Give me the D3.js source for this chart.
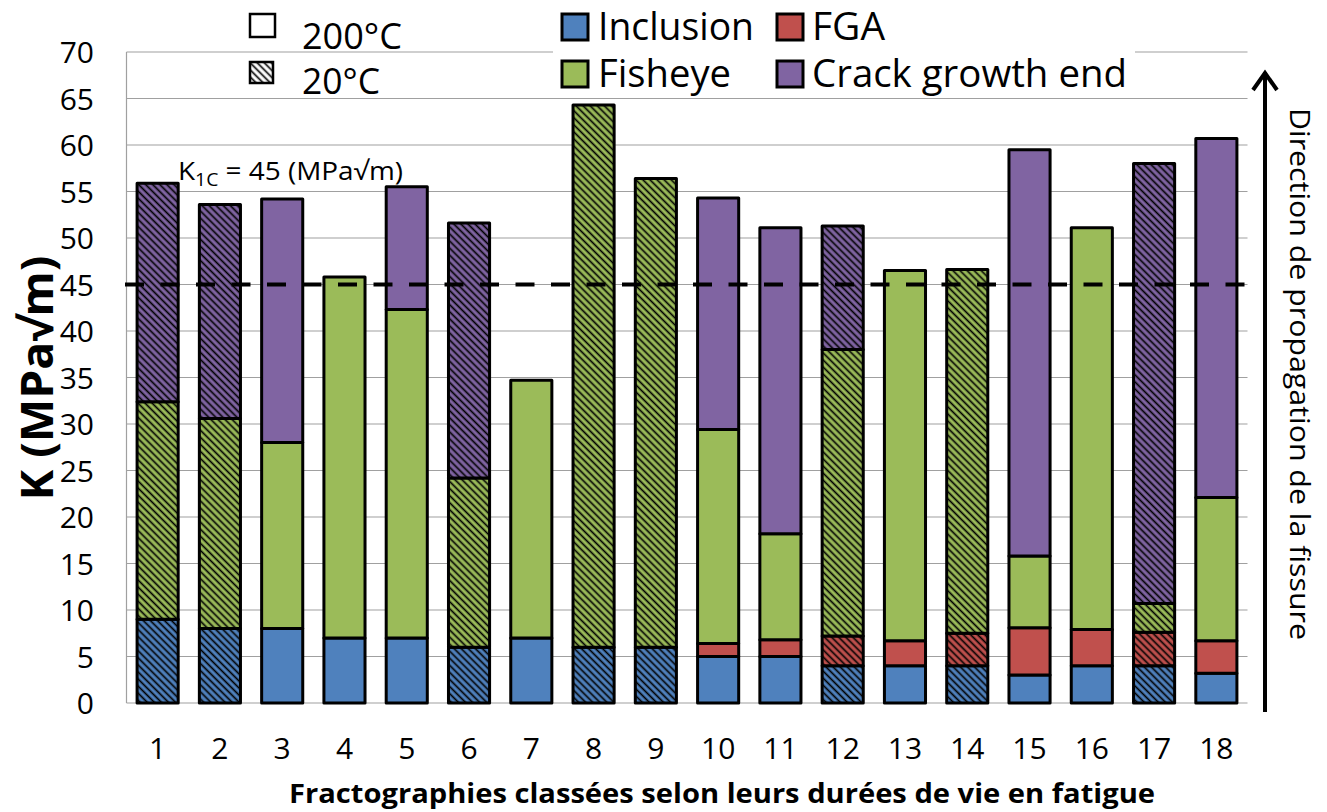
<!DOCTYPE html>
<html><head><meta charset="utf-8">
<script src="https://cdn.jsdelivr.net/npm/d3@7"></script>
<style>
html,body{margin:0;padding:0;background:#fff;}
svg text{font-family:"Open Sans","Noto Sans",sans-serif;fill:#000;}
</style></head>
<body><svg id="c" width="1327" height="812"></svg>
<script>
// ---------- data ----------
const samples = ["1","2","3","4","5","6","7","8","9","10","11","12","13","14","15","16","17","18"];
const temperature = ["20°C","20°C","200°C","200°C","200°C","20°C","200°C","20°C","20°C","200°C","200°C","20°C","200°C","20°C","200°C","200°C","20°C","200°C"];
const seriesNames = ["Inclusion","FGA","Fisheye","Crack growth end"];
const inclusion = [9.0,8.0,8.0,7.0,7.0,6.0,7.0,6.0,6.0,5.0,5.0,4.0,4.0,4.0,3.0,4.0,4.0,3.2];
const fga       = [0,0,0,0,0,0,0,0,0,1.4,1.8,3.2,2.7,3.5,5.1,3.9,3.6,3.5];
const fisheye   = [23.4,22.6,20.0,38.8,35.3,18.2,27.7,58.3,50.4,23.0,11.4,30.8,39.8,39.1,7.7,43.2,3.1,15.4];
const crackEnd  = [23.5,23.0,26.2,0,13.2,27.4,0,0,0,24.9,32.9,13.3,0,0,43.7,0,47.3,38.6];
const yTicks = [0,5,10,15,20,25,30,35,40,45,50,55,60,65,70];
const k1c = 45;

// ---------- setup ----------
const colors = {"Inclusion":"#4F81BD","FGA":"#C0504D","Fisheye":"#9BBB59","Crack growth end":"#8064A2"};
const svg = d3.select("#c");
const defs = svg.append("defs");
function hatch(id, bg){
  const p = defs.append("pattern").attr("id",id).attr("patternUnits","userSpaceOnUse")
    .attr("width",5).attr("height",5).attr("patternTransform","rotate(-45)");
  p.append("rect").attr("width",5).attr("height",5).attr("fill",bg);
  p.append("line").attr("x1",2.5).attr("x2",2.5).attr("y1",0).attr("y2",5)
    .attr("stroke","#000").attr("stroke-width",1.7);
}
seriesNames.forEach((s,i)=>hatch("h"+i, colors[s]));
hatch("hw","#fff");

const x = d3.scaleBand().domain(samples).range([126.5,1247.5]).paddingInner(0.34).paddingOuter(0.17);
const y = d3.scaleLinear().domain([0,70]).range([703,52]);

// gridlines
svg.append("g").selectAll("line").data(yTicks).join("line")
  .attr("x1",126.5).attr("x2",1247.5).attr("y1",d=>y(d)).attr("y2",d=>y(d))
  .attr("stroke","#a0a0a0").attr("stroke-width",1.2);
svg.append("line").attr("x1",126.5).attr("x2",126.5).attr("y1",y(70)).attr("y2",y(0))
  .attr("stroke","#a0a0a0").attr("stroke-width",1.2);

// y axis labels
const yAxis = d3.axisLeft(y).tickValues(yTicks).tickSize(0).tickPadding(0);
const gy = svg.append("g").attr("transform","translate(94,0)").call(yAxis);
gy.select(".domain").remove();
gy.selectAll("text").attr("font-size",30).attr("font-family","Open Sans").attr("dy","0.36em");

// x axis labels
const xAxis = d3.axisBottom(x).tickSize(0).tickPadding(0);
const gx = svg.append("g").attr("transform","translate(0,736)").call(xAxis);
gx.select(".domain").remove();
gx.selectAll("text").attr("font-size",30).attr("font-family","Open Sans").attr("dy","0.75em");

// stacked bars
const table = samples.map((s,i)=>({sample:s, temp:temperature[i],
  "Inclusion":inclusion[i],"FGA":fga[i],"Fisheye":fisheye[i],"Crack growth end":crackEnd[i]}));
const stack = d3.stack().keys(seriesNames)(table);
const gBars = svg.append("g");
stack.forEach((layer,si)=>{
  gBars.append("g").selectAll("rect").data(layer.filter(d=>d[1]-d[0]>0)).join("rect")
    .attr("x",d=>x(d.data.sample)).attr("width",x.bandwidth())
    .attr("y",d=>y(d[1])).attr("height",d=>y(d[0])-y(d[1]))
    .attr("fill",d=>d.data.temp==="20°C" ? "url(#h"+si+")" : colors[layer.key])
    .attr("stroke","#000").attr("stroke-width",3).attr("stroke-linejoin","round");
});

// K1C dashed line
svg.append("line").attr("x1",125).attr("x2",1247.5).attr("y1",y(k1c)).attr("y2",y(k1c))
  .attr("stroke","#000").attr("stroke-width",4).attr("stroke-dasharray","19,16.5");
const kt = svg.append("text").attr("x",178).attr("y",180).attr("font-size",26)
  .attr("textLength",225).attr("lengthAdjust","spacingAndGlyphs");
kt.append("tspan").text("K");
kt.append("tspan").attr("font-size",18).attr("dy",6).text("1C");
kt.append("tspan").attr("dy",-6).text(" = "+k1c+" (MPa√m)");

// axis titles
svg.append("text").attr("transform","translate(53,378) rotate(-90)").attr("text-anchor","middle")
  .attr("font-size",44).attr("font-weight","bold").attr("textLength",245).attr("lengthAdjust","spacingAndGlyphs")
  .text("K (MPa√m)");
svg.append("text").attr("x",722).attr("y",803).attr("text-anchor","middle")
  .attr("font-size",26).attr("font-weight","bold").attr("textLength",866).attr("lengthAdjust","spacingAndGlyphs")
  .text("Fractographies classées selon leurs durées de vie en fatigue");

// right arrow + text
svg.append("line").attr("x1",1265).attr("x2",1265).attr("y1",72).attr("y2",712)
  .attr("stroke","#000").attr("stroke-width",4);
svg.append("path").attr("d","M1253,90 L1265,73 L1277,90").attr("fill","none")
  .attr("stroke","#000").attr("stroke-width",4).attr("stroke-linejoin","miter");
svg.append("text").attr("transform","translate(1290,374) rotate(90)").attr("text-anchor","middle")
  .attr("font-size",28).attr("textLength",532).attr("lengthAdjust","spacingAndGlyphs")
  .text("Direction de propagation de la fissure");

// temperature legend
const tl = svg.append("g");
tl.append("rect").attr("x",250).attr("y",14).attr("width",25).attr("height",23)
  .attr("fill","#fff").attr("stroke","#000").attr("stroke-width",2.5);
tl.append("text").attr("x",302).attr("y",49).attr("font-size",36)
  .attr("textLength",100).attr("lengthAdjust","spacingAndGlyphs").text("200°C");
tl.append("rect").attr("x",250).attr("y",62).attr("width",23).attr("height",21)
  .attr("fill","url(#hw)").attr("stroke","#000").attr("stroke-width",2.5);
tl.append("text").attr("x",302).attr("y",94).attr("font-size",36)
  .attr("textLength",78).attr("lengthAdjust","spacingAndGlyphs").text("20°C");

// series legend
const sl = svg.append("g");
sl.append("rect").attr("x",553).attr("y",0).attr("width",582).attr("height",97).attr("fill","#fff");
const legPos = [
  {k:"Inclusion", x:562, y:14, tx:598, ty:40, w:156},
  {k:"FGA", x:777, y:14, tx:812, ty:40, w:73},
  {k:"Fisheye", x:562, y:61, tx:598, ty:87, w:133},
  {k:"Crack growth end", x:777, y:61, tx:812, ty:87, w:315}
];
legPos.forEach(p=>{
  sl.append("rect").attr("x",p.x).attr("y",p.y).attr("width",26).attr("height",26)
    .attr("fill",colors[p.k]).attr("stroke","#000").attr("stroke-width",3);
  sl.append("text").attr("x",p.tx).attr("y",p.ty).attr("font-size",38)
    .attr("textLength",p.w).attr("lengthAdjust","spacingAndGlyphs").text(p.k);
});
</script></body></html>
